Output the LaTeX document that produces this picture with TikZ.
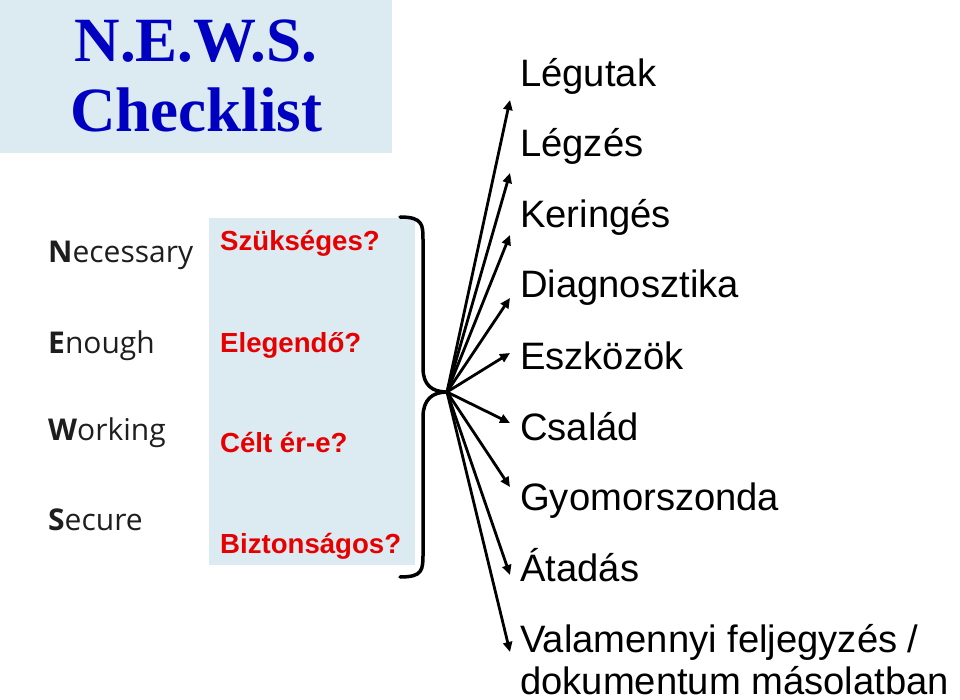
\documentclass[tikz,border=0pt]{standalone}
\usepackage{fontspec}
\setmainfont{Liberation Sans}
\newfontfamily\titlefont{Liberation Serif}
\newfontfamily\labelfont{Open Sans}
\usetikzlibrary{arrows.meta}
\definecolor{paleblue}{RGB}{219,235,241}
\definecolor{titleblue}{RGB}{0,0,192}
\definecolor{askred}{RGB}{230,0,0}
\definecolor{labelgray}{RGB}{30,30,30}

\begin{document}
\begin{tikzpicture}[x=1pt,y=-1pt,
  item/.style={anchor=base west,inner sep=0,font=\fontsize{38.2}{42}\selectfont},
  ask/.style={anchor=base west,inner sep=0,text=askred,font=\fontsize{27.6}{30}\selectfont\bfseries},
  word/.style={anchor=base west,inner sep=0,text=labelgray,font=\labelfont\fontsize{30}{32}\selectfont},
  spoke/.style={line width=2.8,-{Triangle[length=10pt,width=9pt]}}]
\useasboundingbox (0,0) rectangle (960,700);
%\node {\includegraphics{news.jpg}};
\fill[paleblue] (0,0) rectangle (392,153);
\fill[paleblue] (209,218) rectangle (415,565);
\node[anchor=base,inner sep=0,align=center,text=titleblue,font=\titlefont\bfseries\fontsize{63}{70}\selectfont] (title) at (196,132) {N.E.W.S.\\Checklist};
\node[word] (necessary) at (48,263) {\textbf{N}ecessary};
\node[word] (enough) at (48,353) {\textbf{E}nough};
\node[word] (working) at (48,440) {\textbf{W}orking};
\node[word] (secure) at (48,530) {\textbf{S}ecure};
\node[ask] (szukseges) at (220,251) {Szükséges?};
\node[ask] (elegendo) at (220,352) {Elegendő?};
\node[ask] (celt) at (220,452) {Célt ér-e?};
\node[ask] (biztonsagos) at (220,553) {Biztonságos?};
\draw[line width=3.5, line cap=round] (400,217) .. controls (423,217) and (423,225) .. (423,240) -- (423,368) .. controls (423,385) and (432,392) .. (447,392) .. controls (432,392) and (423,400) .. (423,417) -- (423,553) .. controls (423,570) and (423,577) .. (400,577);
\coordinate (hub) at (447,392);
\node[item] (legutak) at (520,87) {Légutak};
\node[item] (legzes) at (520,157) {Légzés};
\node[item] (keringes) at (520,228) {Keringés};
\node[item] (diagnosztika) at (520,298) {Diagnosztika};
\node[item] (eszkozok) at (520,369) {Eszközök};
\node[item] (csalad) at (520,440) {Család};
\node[item] (gyomorszonda) at (520,510) {Gyomorszonda};
\node[item] (atadas) at (520,581) {Átadás};
\node[item,align=left] (valamennyi) at (520,694) {Valamennyi feljegyzés /\\dokumentum másolatban};
\coordinate (tlegutak) at (510,100);
\coordinate (tlegzes) at (510,173);
\coordinate (tkeringes) at (510,235);
\coordinate (tdiagnosztika) at (510,298);
\coordinate (teszkozok) at (510,353);
\coordinate (tcsalad) at (510,423);
\coordinate (tgyomorszonda) at (510,487);
\coordinate (tatadas) at (510,575);
\coordinate (tvalamennyi) at (510,652);
\draw[spoke] (hub) -- (tlegutak);
\draw[spoke] (hub) -- (tlegzes);
\draw[spoke] (hub) -- (tkeringes);
\draw[spoke] (hub) -- (tdiagnosztika);
\draw[spoke] (hub) -- (teszkozok);
\draw[spoke] (hub) -- (tcsalad);
\draw[spoke] (hub) -- (tgyomorszonda);
\draw[spoke] (hub) -- (tatadas);
\draw[spoke] (hub) -- (tvalamennyi);
\end{tikzpicture}
\end{document}
